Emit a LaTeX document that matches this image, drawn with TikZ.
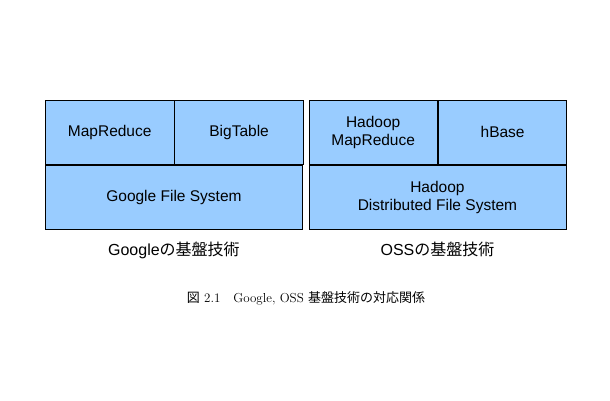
\documentclass[tikz,border=0pt]{standalone}
\usepackage{fontspec}
\usetikzlibrary{positioning}
\newfontfamily\arialfont{Liberation Sans}
\newfontfamily\jpfont{Noto Sans CJK JP}
\definecolor{boxblue}{HTML}{99CCFF}
\begin{document}
\begin{tikzpicture}[x=1pt,y=-1pt,
  blk/.style={draw=black,fill=boxblue,line width=0.9pt,inner sep=0pt,align=center,
    font=\arialfont\fontsize{15.5}{18.5}\selectfont},
  half/.style={blk,minimum width=128.5pt,minimum height=64pt},
  full/.style={blk,minimum width=257pt,minimum height=64pt},
  lab/.style={inner sep=0pt,font=\fontsize{16}{18}\selectfont}]
\useasboundingbox (0,0) rectangle (610,400);

% Google
\node[half,anchor=north west] (mr) at (45,100) {MapReduce};
\node[half,right=0pt of mr] (bt) {BigTable};
\node[full,anchor=north west] (gfs) at (mr.south west) {Google File System};

% OSS
\node[half,anchor=north west] (hmr) at (308.5,100) {Hadoop\\MapReduce};
\node[half,right=0pt of hmr] (hb) {hBase};
\node[full,anchor=north west] (hdfs) at (hmr.south west) {Hadoop\\Distributed File System};

% labels
\node[lab,below=12pt of gfs] (gl) {\arialfont Google\jpfont の基盤技術};
\node[lab,below=12pt of hdfs] (ol) {\arialfont OSS\jpfont の基盤技術};

% caption
\node[inner sep=0pt,font=\fontsize{13}{15}\selectfont] (cap) at (306,298)
  {{\jpfont 図} 2.1\quad Google, OSS {\jpfont 基盤技術の対応関係}};
\end{tikzpicture}
\end{document}
